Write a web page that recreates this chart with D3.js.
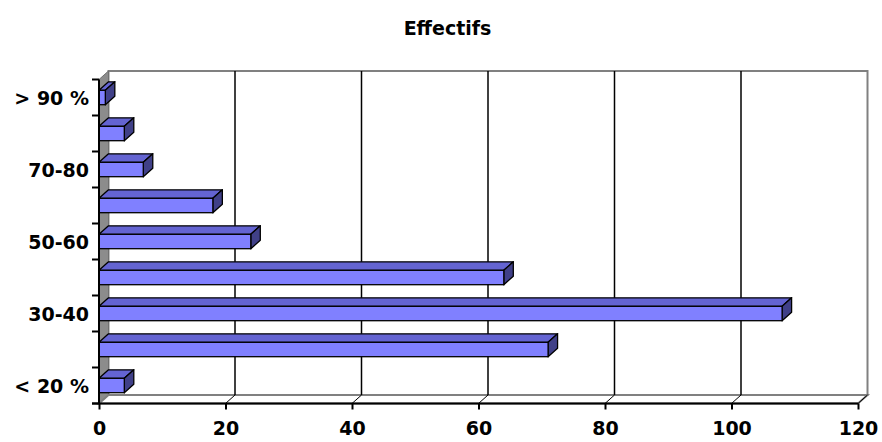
<!DOCTYPE html>
<html>
<head>
<meta charset="utf-8">
<script src="https://cdn.jsdelivr.net/npm/d3@7/dist/d3.min.js"></script>
<style>
  html, body { margin: 0; padding: 0; background: #fff; }
  svg { display: block; font-family: "DejaVu Sans", Verdana, sans-serif; }
</style>
</head>
<body>
<svg id="chart" width="882" height="442"></svg>
<script>
// Age bands (bottom to top) and head counts
const categories = ["< 20 %", "20-30", "30-40", "40-50", "50-60", "60-70", "70-80", "80-90", "> 90 %"];
const values = [4, 71, 108, 64, 24, 18, 7, 4, 1];
const valueTicks = [0, 20, 40, 60, 80, 100, 120];
const shownLabels = ["< 20 %", "30-40", "50-60", "70-80", "> 90 %"];
const title = "Effectifs";

const svg = d3.select("#chart");

// Front plane of the 3D box and the oblique depth offset
const plotLeft = 99, plotRight = 858, plotTop = 79.5, plotBottom = 403.5;
const DX = 9.5, DY = -8.5;

const x = d3.scaleLinear().domain([0, 120]).range([plotLeft, plotRight]);
const y = d3.scaleBand().domain(categories).range([plotBottom, plotTop]).paddingInner(0).paddingOuter(0);
const bw = y.bandwidth();
const barH = bw * 0.4;

const poly = pts => pts.map(p => p.join(",")).join(" ");

// Back wall
svg.append("rect")
  .attr("x", x(0) + DX).attr("y", plotTop + DY)
  .attr("width", x(120) - x(0)).attr("height", plotBottom - plotTop)
  .attr("fill", "#fff").attr("stroke", "#808080").attr("stroke-width", 2);

// Left side wall
svg.append("polygon")
  .attr("points", poly([[plotLeft, plotTop], [plotLeft + DX, plotTop + DY], [plotLeft + DX, plotBottom + DY], [plotLeft, plotBottom]]))
  .attr("fill", "#8c8c8c").attr("stroke", "#707070").attr("stroke-width", 1);

// Floor
svg.append("polygon")
  .attr("points", poly([[plotLeft, plotBottom], [plotRight, plotBottom], [plotRight + DX, plotBottom + DY], [plotLeft + DX, plotBottom + DY]]))
  .attr("fill", "#fff").attr("stroke", "#808080").attr("stroke-width", 2);

// Gridlines on the back wall and floor
const grid = svg.append("g");
valueTicks.filter(v => v > 0 && v < 120).forEach(v => {
  grid.append("line")
    .attr("x1", x(v) + DX).attr("x2", x(v) + DX)
    .attr("y1", plotTop + DY).attr("y2", plotBottom + DY)
    .attr("stroke", "#000").attr("stroke-width", 1.5);
});
valueTicks.filter(v => v > 0).forEach(v => {
  grid.append("line")
    .attr("x1", x(v) + DX).attr("y1", plotBottom + DY)
    .attr("x2", x(v)).attr("y2", plotBottom)
    .attr("stroke", "#000").attr("stroke-width", 1);
});

// 3D bars
const bars = svg.append("g").selectAll("g").data(categories.map((c, i) => ({c, v: values[i]})))
  .join("g");
bars.each(function(d) {
  const g = d3.select(this);
  const x0 = x(0), x1 = x(d.v);
  const y0 = y(d.c) + (bw - barH) / 2, y1 = y0 + barH;
  g.append("polygon")
    .attr("points", poly([[x0, y0], [x1, y0], [x1 + DX, y0 + DY], [x0 + DX, y0 + DY]]))
    .attr("fill", "#6464d2").attr("stroke", "#000").attr("stroke-width", 1.3).attr("stroke-linejoin", "round");
  g.append("polygon")
    .attr("points", poly([[x1, y0], [x1 + DX, y0 + DY], [x1 + DX, y1 + DY], [x1, y1]]))
    .attr("fill", "#404088").attr("stroke", "#000").attr("stroke-width", 1.3).attr("stroke-linejoin", "round");
  g.append("rect")
    .attr("x", x0).attr("y", y0).attr("width", x1 - x0).attr("height", barH)
    .attr("fill", "#8080ff").attr("stroke", "#000").attr("stroke-width", 1.3);
});

// Category axis on the front left edge
const yAxis = d3.axisLeft(y).tickSize(0).tickPadding(10)
  .tickFormat(c => shownLabels.includes(c) ? c : "");
const yg = svg.append("g").attr("transform", `translate(${plotLeft},0)`).call(yAxis);
yg.select(".domain").remove();
yg.selectAll("text")
  .attr("font-size", 19).attr("font-weight", "bold").attr("fill", "#000")
  .attr("font-family", "DejaVu Sans, Verdana, sans-serif")
  .attr("dy", "0.42em");
svg.append("line").attr("x1", plotLeft).attr("x2", plotLeft).attr("y1", plotTop).attr("y2", plotBottom)
  .attr("stroke", "#000").attr("stroke-width", 2);
const edges = d3.range(categories.length + 1).map(k => plotTop + k * bw);
svg.append("g").selectAll("line").data(edges).join("line")
  .attr("x1", plotLeft - 7).attr("x2", plotLeft).attr("y1", d => d).attr("y2", d => d)
  .attr("stroke", "#000").attr("stroke-width", 2);

// Value axis on the front bottom edge
const xAxis = d3.axisBottom(x).tickValues(valueTicks).tickSize(6).tickPadding(12);
const xg = svg.append("g").attr("transform", `translate(0,${plotBottom})`).call(xAxis);
xg.select(".domain").remove();
xg.selectAll(".tick line").attr("stroke", "#000").attr("stroke-width", 2);
xg.selectAll("text")
  .attr("font-size", 19).attr("font-weight", "bold").attr("fill", "#000")
  .attr("font-family", "DejaVu Sans, Verdana, sans-serif");
svg.append("line").attr("x1", plotLeft - 7).attr("x2", plotRight).attr("y1", plotBottom).attr("y2", plotBottom)
  .attr("stroke", "#000").attr("stroke-width", 2);

// Title
svg.append("text").attr("x", 447.5).attr("y", 35)
  .attr("text-anchor", "middle").attr("font-size", 19).attr("font-weight", "bold")
  .text(title);
</script>
</body>
</html>
